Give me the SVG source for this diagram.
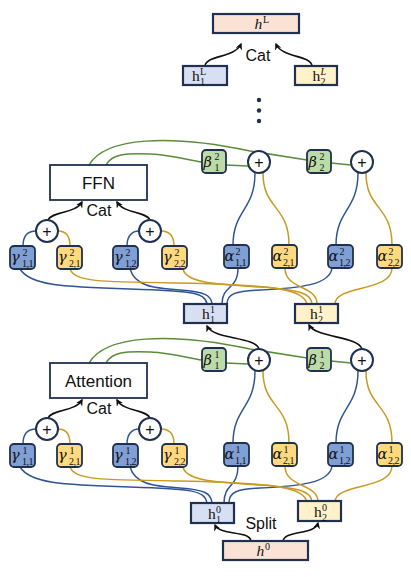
<svg xmlns="http://www.w3.org/2000/svg" width="411" height="577" viewBox="0 0 411 577">
<defs>
<style>
.bl{fill:none;stroke:#2f5597;stroke-width:1.5}
.yl{fill:none;stroke:#c99a22;stroke-width:1.5}
.gl{fill:none;stroke:#5b8c3a;stroke-width:1.5}
.ar{fill:none;stroke:#111;stroke-width:1.6;marker-end:url(#ah)}
.bx{stroke:#1f3050;stroke-width:1.8}
.hb{stroke:#1f3050;stroke-width:2.2}
.blue{fill:#7f9fd5}
.yel{fill:#ffd97e}
.grn{fill:#bcdba8}
.lb{fill:#d7e0f2}
.ly{fill:#fff1c9}
.pk{fill:#fbe2d4}
.pl{fill:#fff;stroke:#1f3050;stroke-width:2}
.gk{font-family:"DejaVu Serif",serif;font-style:italic;font-size:14.5px;fill:#111}
.sm{font-family:"Liberation Serif",serif;font-size:10px;fill:#111}
.ss{font-family:"Liberation Serif",serif;font-size:10px;letter-spacing:-0.5px;fill:#111}
.smi{font-family:"Liberation Serif",serif;font-style:italic;font-size:10px;fill:#111}
.hh{font-family:"Liberation Serif",serif;font-size:15.5px;fill:#111}
.hi{font-family:"Liberation Serif",serif;font-style:italic;font-size:15.5px;fill:#111}
.sn{font-family:"Liberation Sans",Arial,sans-serif;fill:#111}
.pt{font-family:"Liberation Sans",Arial,sans-serif;font-size:16px;fill:#111;text-anchor:middle}
</style>
<marker id="ah" viewBox="0 0 10 10" refX="8" refY="5" markerWidth="7" markerHeight="7" markerUnits="userSpaceOnUse" orient="auto">
<path d="M0,0 L10,5 L0,10 L3,5 z" fill="#111"/>
</marker>
</defs>
<rect width="411" height="577" fill="#fff"/>

<g id="connectors">
<path class="ar" d="M205,66 C206,55 235,58 241,44"/>
<path class="ar" d="M312,66 C311,55 282,58 276,44"/>
<path class="gl" d="M89,165 C105,137 170,134 250,151 L307,160"/>
<path class="gl" d="M106,165 C112,154 125,153 150,154 C175,155 190,161 202,162"/>
<path class="gl" d="M226,165 L248,166"/>
<path class="gl" d="M331,163 L351,165"/>
<path class="bl" d="M255,173 C255,210 233,210 233,245"/>
<path class="yl" d="M263,173 C263,210 289,205 289,245"/>
<path class="bl" d="M358,173 C358,210 336,210 336,245"/>
<path class="yl" d="M366,173 C366,210 392,205 392,245"/>
<path class="bl" d="M23,246 C23,236 28,231 36,231"/>
<path class="yl" d="M58,231 C66,231 70,236 70,246"/>
<path class="bl" d="M127,246 C127,236 132,231 139,231"/>
<path class="yl" d="M161,231 C169,231 174,236 174,246"/>
<path class="ar" d="M48,220 C52,211 75,214 82,202"/>
<path class="ar" d="M150,220 C146,211 124,214 117,202"/>
<path class="bl" d="M20,269 C30,285 60,287 130,289 C190,291 205,292 207,304"/>
<path class="bl" d="M130,269 C135,285 150,288 180,290 C205,292 211,295 212,304"/>
<path class="bl" d="M238,268 C238,290 222,285 222,304"/>
<path class="bl" d="M332,268 C330,285 300,288 260,290 C235,291 227,294 227,304"/>
<path class="yl" d="M70,269 C75,282 100,282 180,283 C280,285 303,290 307,304"/>
<path class="yl" d="M183,269 C186,282 210,284 260,287 C300,290 311,293 312,304"/>
<path class="yl" d="M285,268 C285,290 317,285 317,304"/>
<path class="yl" d="M392,268 C392,292 335,285 335,304"/>
<path class="ar" d="M259,349 C255,336 214,340 207,326"/>
<path class="ar" d="M362,349 C358,336 316,338 309,325"/>
<path class="gl" d="M89,363 C105,335 170,332 250,349 L307,358"/>
<path class="gl" d="M106,363 C112,352 125,351 150,352 C175,353 190,359 202,360"/>
<path class="gl" d="M226,363 L248,364"/>
<path class="gl" d="M331,361 L351,363"/>
<path class="bl" d="M255,371 C255,408 233,408 233,443"/>
<path class="yl" d="M263,371 C263,408 289,403 289,443"/>
<path class="bl" d="M358,371 C358,408 336,408 336,443"/>
<path class="yl" d="M366,371 C366,408 392,403 392,443"/>
<path class="bl" d="M23,444 C23,434 28,429 36,429"/>
<path class="yl" d="M58,429 C66,429 70,434 70,444"/>
<path class="bl" d="M127,444 C127,434 132,429 139,429"/>
<path class="yl" d="M161,429 C169,429 174,434 174,444"/>
<path class="ar" d="M48,418 C52,409 75,412 82,400"/>
<path class="ar" d="M150,418 C146,409 124,412 117,400"/>
<path class="bl" d="M20,467 C30,483 60,485 130,487 C190,489 205,490 207,503"/>
<path class="bl" d="M130,467 C135,483 150,486 180,488 C205,490 211,493 212,503"/>
<path class="bl" d="M238,466 C238,488 224,483 224,503"/>
<path class="bl" d="M332,466 C330,483 300,486 260,488 C237,489 229,492 229,503"/>
<path class="yl" d="M70,467 C75,480 100,480 180,481 C280,483 303,488 307,502"/>
<path class="yl" d="M183,467 C186,480 210,482 260,485 C300,488 311,491 312,502"/>
<path class="yl" d="M285,466 C285,488 318,483 318,502"/>
<path class="yl" d="M392,466 C392,490 335,483 335,502"/>
<path class="ar" d="M251,541 C249,530 220,536 215,525"/>
<path class="ar" d="M283,541 C285,530 315,535 318,523"/>
</g>

<g id="hL"><rect class="hb pk" x="213" y="14" width="86" height="19"/><text class="hi" x="254.5" y="29">h</text><text class="sm" x="263" y="23">L</text></g>
<text class="sn" x="258" y="61" font-size="16" text-anchor="middle">Cat</text>
<g id="h1L"><rect class="hb lb" x="183" y="66" width="44" height="19"/><text class="hh" x="192" y="81">h</text><text class="sm" x="200" y="75">L</text><text class="sm" x="200" y="85">1</text></g>
<g id="h2L"><rect class="hb ly" x="295" y="66" width="42" height="19"/><text class="hh" x="312.5" y="81">h</text><text class="smi" x="320.5" y="75">L</text><text class="sm" x="320.5" y="85">2</text></g>
<g id="dots" fill="#1f3050"><circle cx="259" cy="100" r="2.2"/><circle cx="259" cy="110.5" r="2.2"/><circle cx="259" cy="121" r="2.2"/></g>

<g id="ffn"><rect class="bx" x="50" y="165" width="97" height="35" fill="#fff" stroke-width="2"/><text class="sn" x="98.5" y="189" font-size="17" text-anchor="middle">FFN</text></g>
<text class="sn" x="99" y="216" font-size="16" text-anchor="middle">Cat</text>
<g id="beta21"><rect class="bx grn" x="202" y="150" width="24" height="23" rx="4"/><text class="gk" x="203.5" y="166.5">β</text><text class="sm" x="214.5" y="159.5">2</text><text class="sm" x="214.5" y="170.5">1</text></g>
<g id="beta22"><rect class="bx grn" x="307" y="150" width="24" height="23" rx="4"/><text class="gk" x="308.5" y="166.5">β</text><text class="sm" x="319.5" y="159.5">2</text><text class="sm" x="319.5" y="170.5">2</text></g>
<g id="plusA2"><circle class="pl" cx="259" cy="162" r="11"/><text class="pt" x="259" y="167.5">+</text></g>
<g id="plusB2"><circle class="pl" cx="362" cy="162" r="11"/><text class="pt" x="362" y="167.5">+</text></g>
<g id="plusC2"><circle class="pl" cx="47" cy="231" r="11"/><text class="pt" x="47" y="236.5">+</text></g>
<g id="plusD2"><circle class="pl" cx="150" cy="231" r="11"/><text class="pt" x="150" y="236.5">+</text></g>
<g id="g211"><rect class="bx blue" x="10" y="246" width="25" height="23" rx="4"/><text class="gk" x="11" y="262">γ</text><text class="sm" x="22.5" y="255.5">2</text><text class="ss" x="22" y="266.5">1,1</text></g>
<g id="g221"><rect class="bx yel" x="57" y="246" width="25" height="23" rx="4"/><text class="gk" x="58" y="262">γ</text><text class="sm" x="69.5" y="255.5">2</text><text class="ss" x="69" y="266.5">2,1</text></g>
<g id="g212"><rect class="bx blue" x="113" y="246" width="25" height="23" rx="4"/><text class="gk" x="114" y="262">γ</text><text class="sm" x="125.5" y="255.5">2</text><text class="ss" x="125" y="266.5">1,2</text></g>
<g id="g222"><rect class="bx yel" x="162" y="246" width="25" height="23" rx="4"/><text class="gk" x="163" y="262">γ</text><text class="sm" x="174.5" y="255.5">2</text><text class="ss" x="174" y="266.5">2,2</text></g>
<g id="a211"><rect class="bx blue" x="224" y="245" width="25" height="23" rx="4"/><text class="gk" x="224.5" y="261">α</text><text class="sm" x="235.5" y="254.5">2</text><text class="ss" x="235" y="265.5">1,1</text></g>
<g id="a221"><rect class="bx yel" x="272" y="245" width="25" height="23" rx="4"/><text class="gk" x="272.5" y="261">α</text><text class="sm" x="283.5" y="254.5">2</text><text class="ss" x="283" y="265.5">2,1</text></g>
<g id="a212"><rect class="bx blue" x="328" y="245" width="25" height="23" rx="4"/><text class="gk" x="328.5" y="261">α</text><text class="sm" x="339.5" y="254.5">2</text><text class="ss" x="339" y="265.5">1,2</text></g>
<g id="a222"><rect class="bx yel" x="377" y="245" width="25" height="23" rx="4"/><text class="gk" x="377.5" y="261">α</text><text class="sm" x="388.5" y="254.5">2</text><text class="ss" x="388" y="265.5">2,2</text></g>

<g id="h11"><rect class="hb lb" x="184" y="304" width="43" height="19"/><text class="hh" x="202" y="319">h</text><text class="sm" x="210" y="313">1</text><text class="sm" x="210" y="323">1</text></g>
<g id="h21"><rect class="hb ly" x="295" y="304" width="43" height="19"/><text class="hh" x="310" y="319">h</text><text class="sm" x="318" y="313">1</text><text class="sm" x="318" y="323">2</text></g>

<g id="attn"><rect class="bx" x="50" y="363" width="97" height="35" fill="#fff" stroke-width="2"/><text class="sn" x="98.5" y="387" font-size="17" text-anchor="middle">Attention</text></g>
<text class="sn" x="99" y="414" font-size="16" text-anchor="middle">Cat</text>
<g id="beta11"><rect class="bx grn" x="202" y="348" width="24" height="23" rx="4"/><text class="gk" x="203.5" y="364.5">β</text><text class="sm" x="214.5" y="357.5">1</text><text class="sm" x="214.5" y="368.5">1</text></g>
<g id="beta12"><rect class="bx grn" x="307" y="348" width="24" height="23" rx="4"/><text class="gk" x="308.5" y="364.5">β</text><text class="sm" x="319.5" y="357.5">1</text><text class="sm" x="319.5" y="368.5">2</text></g>
<g id="plusA1"><circle class="pl" cx="259" cy="360" r="11"/><text class="pt" x="259" y="365.5">+</text></g>
<g id="plusB1"><circle class="pl" cx="362" cy="360" r="11"/><text class="pt" x="362" y="365.5">+</text></g>
<g id="plusC1"><circle class="pl" cx="47" cy="429" r="11"/><text class="pt" x="47" y="434.5">+</text></g>
<g id="plusD1"><circle class="pl" cx="150" cy="429" r="11"/><text class="pt" x="150" y="434.5">+</text></g>
<g id="g111"><rect class="bx blue" x="10" y="444" width="25" height="23" rx="4"/><text class="gk" x="11" y="460">γ</text><text class="sm" x="22.5" y="453.5">1</text><text class="ss" x="22" y="464.5">1,1</text></g>
<g id="g121"><rect class="bx yel" x="57" y="444" width="25" height="23" rx="4"/><text class="gk" x="58" y="460">γ</text><text class="sm" x="69.5" y="453.5">1</text><text class="ss" x="69" y="464.5">2,1</text></g>
<g id="g112"><rect class="bx blue" x="113" y="444" width="25" height="23" rx="4"/><text class="gk" x="114" y="460">γ</text><text class="sm" x="125.5" y="453.5">1</text><text class="ss" x="125" y="464.5">1,2</text></g>
<g id="g122"><rect class="bx yel" x="162" y="444" width="25" height="23" rx="4"/><text class="gk" x="163" y="460">γ</text><text class="sm" x="174.5" y="453.5">1</text><text class="ss" x="174" y="464.5">2,2</text></g>
<g id="a111"><rect class="bx blue" x="224" y="443" width="25" height="23" rx="4"/><text class="gk" x="224.5" y="459">α</text><text class="sm" x="235.5" y="452.5">1</text><text class="ss" x="235" y="463.5">1,1</text></g>
<g id="a121"><rect class="bx yel" x="272" y="443" width="25" height="23" rx="4"/><text class="gk" x="272.5" y="459">α</text><text class="sm" x="283.5" y="452.5">1</text><text class="ss" x="283" y="463.5">2,1</text></g>
<g id="a112"><rect class="bx blue" x="328" y="443" width="25" height="23" rx="4"/><text class="gk" x="328.5" y="459">α</text><text class="sm" x="339.5" y="452.5">1</text><text class="ss" x="339" y="463.5">1,2</text></g>
<g id="a122"><rect class="bx yel" x="377" y="443" width="25" height="23" rx="4"/><text class="gk" x="377.5" y="459">α</text><text class="sm" x="388.5" y="452.5">1</text><text class="ss" x="388" y="463.5">2,2</text></g>

<g id="h10"><rect class="hb lb" x="191" y="503" width="43" height="20"/><text class="hh" x="208" y="518.5">h</text><text class="sm" x="216" y="512.5">0</text><text class="sm" x="216" y="523">1</text></g>
<g id="h20"><rect class="hb ly" x="298" y="501" width="43" height="20"/><text class="hh" x="314" y="516.5">h</text><text class="sm" x="322" y="510.5">0</text><text class="sm" x="322" y="521">2</text></g>
<text class="sn" x="261" y="529" font-size="16" text-anchor="middle">Split</text>
<g id="h0"><rect class="hb pk" x="223" y="541" width="85" height="19"/><text class="hi" x="256.5" y="556">h</text><text class="sm" x="265" y="550">0</text></g>
</svg>
